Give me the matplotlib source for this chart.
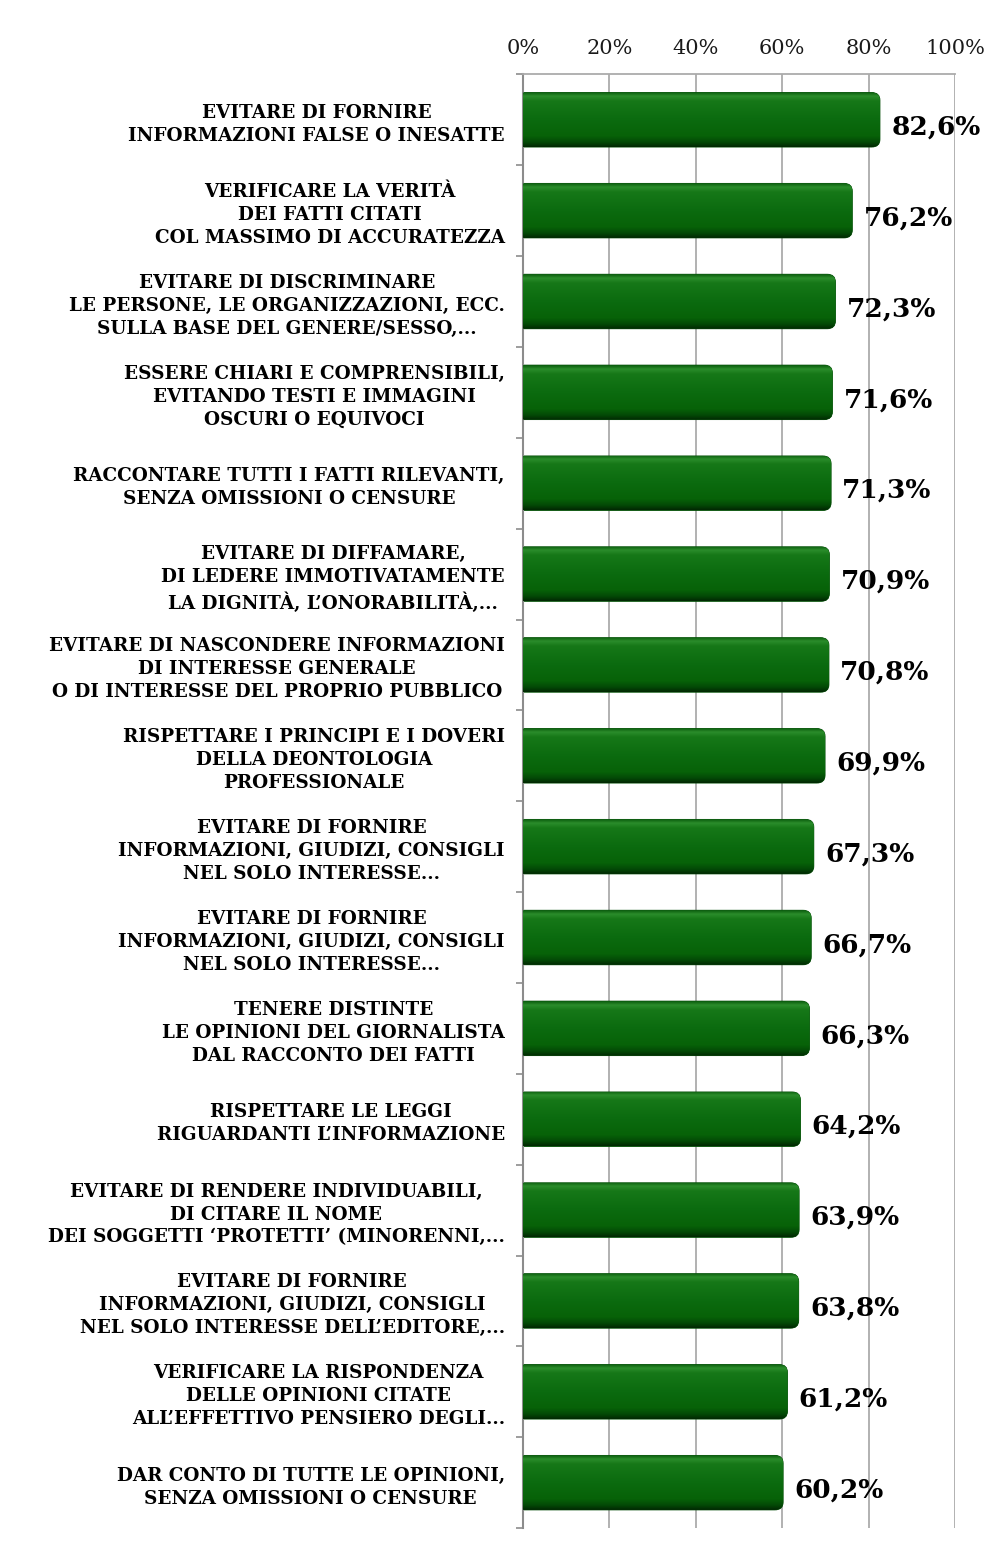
import numpy as np
import matplotlib
matplotlib.use('Agg')
import matplotlib.pyplot as plt
from matplotlib.patches import FancyBboxPatch
from matplotlib.colors import LinearSegmentedColormap

# Data (top to bottom)
labels = [
    "EVITARE DI FORNIRE\nINFORMAZIONI FALSE O INESATTE",
    "VERIFICARE LA VERITÀ\nDEI FATTI CITATI\nCOL MASSIMO DI ACCURATEZZA",
    "EVITARE DI DISCRIMINARE\nLE PERSONE, LE ORGANIZZAZIONI, ECC.\nSULLA BASE DEL GENERE/SESSO,...",
    "ESSERE CHIARI E COMPRENSIBILI,\nEVITANDO TESTI E IMMAGINI\nOSCURI O EQUIVOCI",
    "RACCONTARE TUTTI I FATTI RILEVANTI,\nSENZA OMISSIONI O CENSURE",
    "EVITARE DI DIFFAMARE,\nDI LEDERE IMMOTIVATAMENTE\nLA DIGNITÀ, L’ONORABILITÀ,...",
    "EVITARE DI NASCONDERE INFORMAZIONI\nDI INTERESSE GENERALE\nO DI INTERESSE DEL PROPRIO PUBBLICO",
    "RISPETTARE I PRINCIPI E I DOVERI\nDELLA DEONTOLOGIA\nPROFESSIONALE",
    "EVITARE DI FORNIRE\nINFORMAZIONI, GIUDIZI, CONSIGLI\nNEL SOLO INTERESSE...",
    "EVITARE DI FORNIRE\nINFORMAZIONI, GIUDIZI, CONSIGLI\nNEL SOLO INTERESSE...",
    "TENERE DISTINTE\nLE OPINIONI DEL GIORNALISTA\nDAL RACCONTO DEI FATTI",
    "RISPETTARE LE LEGGI\nRIGUARDANTI L’INFORMAZIONE",
    "EVITARE DI RENDERE INDIVIDUABILI,\nDI CITARE IL NOME\nDEI SOGGETTI ‘PROTETTI’ (MINORENNI,...",
    "EVITARE DI FORNIRE\nINFORMAZIONI, GIUDIZI, CONSIGLI\nNEL SOLO INTERESSE DELL’EDITORE,...",
    "VERIFICARE LA RISPONDENZA\nDELLE OPINIONI CITATE\nALL’EFFETTIVO PENSIERO DEGLI...",
    "DAR CONTO DI TUTTE LE OPINIONI,\nSENZA OMISSIONI O CENSURE",
]
values = [82.6, 76.2, 72.3, 71.6, 71.3, 70.9, 70.8, 69.9,
          67.3, 66.7, 66.3, 64.2, 63.9, 63.8, 61.2, 60.2]
xticks = [0, 20, 40, 60, 80, 100]

plt.rcParams['font.family'] = ['DejaVu Serif']

fig = plt.figure(figsize=(9.96, 15.49), dpi=100)
ax = fig.add_axes([0.525, 0.0135, 0.434, 0.9385])

y = np.arange(len(values))
bars = ax.barh(y, values, height=0.6, color='none', zorder=1)
ax.set_xlim(0, 100)
ax.set_ylim(len(values) - 0.5, -0.5)

# rounded bars with a glossy vertical gradient
green = LinearSegmentedColormap.from_list('g', [
    (0.0, '#0a5c0d'), (0.07, '#2b8c2b'), (0.16, '#167818'),
    (0.5, '#0b6b0f'), (0.8, '#076208'), (0.92, '#034806'), (1.0, '#012802')])
grad = np.linspace(0, 1, 128).reshape(-1, 1)
for b in bars:
    x0, yb, w, h = b.get_x(), b.get_y(), b.get_width(), b.get_height()
    patch = FancyBboxPatch((x0 - 3, yb), w + 3, h,
                           boxstyle='round,pad=0,rounding_size=1.9',
                           mutation_aspect=0.045,
                           facecolor='#0b6b0f', edgecolor='#034d06',
                           linewidth=0.6, zorder=2)
    ax.add_patch(patch)
    im = ax.imshow(grad, cmap=green, aspect='auto',
                   extent=[x0 - 3, x0 + w, yb + h, yb], zorder=3)
    im.set_clip_path(patch)

for yi, v in zip(y, values):
    ax.text(v + 2.6, yi + 0.08, ('%.1f' % v).replace('.', ',') + '%',
            va='center', ha='left', fontsize=19, fontweight='bold',
            color='black', zorder=4)

# axes styling
ax.xaxis.tick_top()
ax.set_xticks(xticks)
ax.set_xticklabels(['%d%%' % t for t in xticks], fontsize=15, color='#1a1a1a')
ax.tick_params(axis='x', length=0, pad=12)
ax.grid(axis='x', color='#ababab', linewidth=1.3, zorder=0)
ax.set_axisbelow(True)

ax.set_yticks(y)
ax.set_yticklabels(labels, fontsize=13.2, fontweight='bold',
                   multialignment='center', linespacing=1.35)
ax.tick_params(axis='y', length=0, pad=13)
ax.set_yticks(np.arange(len(values) + 1) - 0.5, minor=True)
ax.tick_params(axis='y', which='minor', length=5, color='#8c8c8c', width=1.2)

for s in ['right', 'bottom']:
    ax.spines[s].set_visible(False)
ax.spines['top'].set_color('#ababab')
ax.spines['top'].set_linewidth(1.3)
ax.spines['left'].set_color('#8c8c8c')
ax.spines['left'].set_linewidth(1.5)

fig.savefig('out.png', dpi=100)
